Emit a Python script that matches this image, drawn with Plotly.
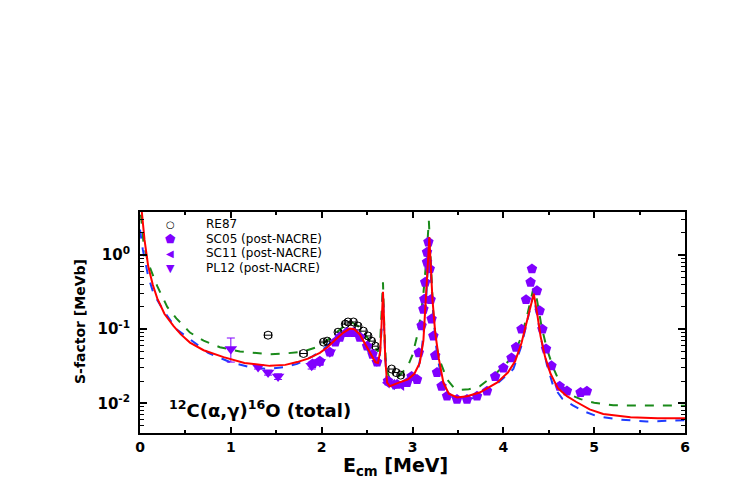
import plotly.graph_objects as go

# ---- curves ----
red_E = [0.02, 0.05, 0.09, 0.14, 0.19, 0.27, 0.37, 0.45, 0.55, 0.7, 0.92, 1.15, 1.43, 1.6, 1.73, 1.85, 1.98,
         2.07, 2.15, 2.24, 2.31, 2.36, 2.42, 2.48, 2.54, 2.59, 2.62, 2.645, 2.66, 2.675, 2.685, 2.70, 2.72,
         2.75, 2.85, 2.95, 3.02, 3.08, 3.12, 3.15, 3.17, 3.185, 3.20, 3.22, 3.25, 3.29, 3.34, 3.40, 3.49,
         3.6, 3.74, 3.93, 4.05, 4.13, 4.2, 4.26, 4.30, 4.335, 4.37, 4.41, 4.46, 4.52, 4.6, 4.7, 4.8, 4.95,
         5.1, 5.4, 5.7, 6.0]
red_S = [3.8, 1.6, 0.71, 0.40, 0.26, 0.16, 0.11, 0.085, 0.066, 0.052, 0.042, 0.035, 0.032, 0.033, 0.036,
         0.040, 0.048, 0.058, 0.072, 0.090, 0.102, 0.100, 0.085, 0.063, 0.045, 0.036, 0.035, 0.05, 0.12,
         0.32, 0.15, 0.04, 0.019, 0.017, 0.019, 0.021, 0.025, 0.035, 0.07, 0.25, 0.8, 1.75, 0.8, 0.25,
         0.09, 0.04, 0.019, 0.0135, 0.012, 0.0125, 0.014, 0.019, 0.026, 0.037, 0.065, 0.13, 0.22, 0.30,
         0.17, 0.08, 0.042, 0.025, 0.016, 0.0125, 0.0105, 0.0083, 0.0072, 0.0065, 0.0063, 0.0063]

green_E = [0.01, 0.04, 0.09, 0.19, 0.3, 0.4, 0.55, 0.7, 0.88, 1.1, 1.43, 1.6, 1.8, 1.98, 2.13, 2.27, 2.33,
           2.40, 2.46, 2.52, 2.57, 2.62, 2.645, 2.66, 2.675, 2.69, 2.71, 2.75, 2.85, 2.95, 3.0, 3.05, 3.09,
           3.12, 3.15, 3.18, 3.2, 3.23, 3.27, 3.30, 3.38, 3.45, 3.52, 3.62, 3.74, 3.9, 4.11, 4.2, 4.26,
           4.33, 4.37, 4.42, 4.48, 4.55, 4.63, 4.75, 4.85, 5.0, 5.21, 5.5, 6.0]
green_S = [3.5, 1.4, 0.78, 0.38, 0.2, 0.14, 0.09, 0.07, 0.057, 0.05, 0.046, 0.047, 0.05, 0.059, 0.083,
           0.117, 0.124, 0.11, 0.09, 0.072, 0.059, 0.05, 0.07, 0.15, 0.43, 0.1, 0.03, 0.021, 0.023, 0.032,
           0.045, 0.08, 0.15, 0.3, 0.8, 2.9, 0.9, 0.15, 0.055, 0.038, 0.021, 0.0165, 0.0152, 0.0155, 0.017,
           0.024, 0.043, 0.08, 0.15, 0.35, 0.25, 0.11, 0.054, 0.03, 0.018, 0.0128, 0.0114, 0.0102, 0.0094,
           0.0093, 0.0093]

blue_E = [0.0, 0.03, 0.09, 0.15, 0.25, 0.4, 0.55, 0.75, 0.99, 1.2, 1.4, 1.6, 1.73, 1.9, 2.02, 2.12, 2.24,
          2.31, 2.36, 2.42, 2.5, 2.56, 2.61, 2.64, 2.66, 2.675, 2.69, 2.71, 2.73, 2.8, 2.9, 3.0, 3.06, 3.1,
          3.14, 3.165, 3.185, 3.2, 3.23, 3.27, 3.32, 3.38, 3.49, 3.6, 3.74, 3.9, 4.11, 4.2, 4.27, 4.33,
          4.37, 4.42, 4.48, 4.55, 4.65, 4.77, 4.9, 5.03, 5.3, 5.58, 6.0]
blue_S = [2.2, 1.2, 0.52, 0.3, 0.186, 0.1, 0.073, 0.048, 0.036, 0.031, 0.029, 0.031, 0.034, 0.043, 0.054,
          0.07, 0.092, 0.098, 0.095, 0.078, 0.054, 0.038, 0.032, 0.045, 0.1, 0.3, 0.08, 0.025, 0.0155,
          0.016, 0.018, 0.021, 0.028, 0.05, 0.15, 0.6, 1.6, 0.6, 0.15, 0.045, 0.022, 0.0145, 0.0105,
          0.0112, 0.0124, 0.017, 0.029, 0.06, 0.14, 0.29, 0.16, 0.07, 0.033, 0.017, 0.0115, 0.0093,
          0.0077, 0.0067, 0.006, 0.0057, 0.0059]

# ---- data points ----
re87_E = [1.41, 1.80, 2.02, 2.06, 2.18, 2.26, 2.29, 2.35, 2.40, 2.46, 2.51, 2.55, 2.59, 2.77, 2.82, 2.87]
re87_S = [0.083, 0.047, 0.067, 0.069, 0.091, 0.117, 0.125, 0.125, 0.110, 0.094, 0.081, 0.069, 0.059,
          0.029, 0.026, 0.024]
re87_dE = [0.04, 0.04, 0.03, 0.03, 0.03, 0.03, 0.03, 0.03, 0.03, 0.03, 0.03, 0.03, 0.03, 0.03, 0.03, 0.03]

sc05_E = [1.90, 1.98, 2.09, 2.15, 2.20, 2.28, 2.35, 2.42, 2.50, 2.56, 2.61, 2.73, 2.83, 2.94, 3.05,
          2.99, 3.07, 3.10, 3.12, 3.13, 3.14, 3.16, 3.16, 3.175, 3.19, 3.20, 3.21, 3.23, 3.25, 3.27, 3.32,
          3.38, 3.49, 3.60, 3.71, 3.82, 3.91, 4.00, 4.09, 4.14, 4.20, 4.25, 4.30, 4.315, 4.37, 4.40, 4.43,
          4.47, 4.53, 4.62, 4.70, 4.85, 4.92]
sc05_S = [0.034, 0.037, 0.049, 0.067, 0.078, 0.090, 0.090, 0.078, 0.059, 0.046, 0.036, 0.020, 0.018,
          0.019, 0.021, 0.023, 0.048, 0.111, 0.186, 0.254, 0.43, 0.80, 1.09, 1.5, 0.65, 0.25, 0.137, 0.081,
          0.044, 0.026, 0.017, 0.0125, 0.0113, 0.0113, 0.0125, 0.0146, 0.023, 0.030, 0.041, 0.057, 0.10,
          0.25, 0.43, 0.65, 0.33, 0.177, 0.10, 0.054, 0.032, 0.017, 0.0147, 0.014, 0.0146]

sc11_E = [2.72, 2.78, 2.88]
sc11_S = [0.019, 0.018, 0.0175]

pl12_E = [1.00, 1.30, 1.41, 1.52, 1.89, 1.98, 2.09]
pl12_S = [0.054, 0.031, 0.026, 0.023, 0.032, 0.036, 0.049]
pl12_up = [0.022, 0.002, 0.002, 0.002, 0.003, 0.003, 0.003]
pl12_dn = [0.018, 0.002, 0.002, 0.002, 0.003, 0.003, 0.003]

legend_names = ["RE87", "SC05 (post-NACRE)", "SC11 (post-NACRE)", "PL12 (post-NACRE)"]
legend_glyphs = ["○", "⬟", "◀", "▼"]

VIOLET = "#8000ff"
FONT = "DejaVu Sans"

fig = go.Figure()
fig.add_trace(go.Scatter(x=green_E, y=green_S, mode="lines", showlegend=False,
                         line=dict(color="#1a8a1a", width=2, dash="dash")))
fig.add_trace(go.Scatter(x=blue_E, y=blue_S, mode="lines", showlegend=False,
                         line=dict(color="#1f3cff", width=2, dash="dash")))
fig.add_trace(go.Scatter(x=re87_E, y=re87_S, mode="markers", name=legend_names[0], showlegend=False,
                         marker=dict(symbol="circle-open", size=8, color="black", line=dict(width=1)),
                         error_x=dict(type="data", array=re87_dE, color="black", thickness=1, width=3)))
fig.add_trace(go.Scatter(x=sc05_E, y=sc05_S, mode="markers", name=legend_names[1], showlegend=False,
                         marker=dict(symbol="pentagon", size=11, color=VIOLET)))
fig.add_trace(go.Scatter(x=sc11_E, y=sc11_S, mode="markers", name=legend_names[2], showlegend=False,
                         marker=dict(symbol="triangle-left", size=10, color=VIOLET)))
fig.add_trace(go.Scatter(x=pl12_E, y=pl12_S, mode="markers", name=legend_names[3], showlegend=False,
                         marker=dict(symbol="triangle-down", size=11, color=VIOLET),
                         error_y=dict(type="data", array=pl12_up, arrayminus=pl12_dn, color=VIOLET,
                                      thickness=1, width=4)))
fig.add_trace(go.Scatter(x=red_E, y=red_S, mode="lines", showlegend=False,
                         line=dict(color="#ff0000", width=2)))

minor_y = [m * 10 ** d for d in (-3, -2, -1, 0) for m in range(2, 10)]

# plot area in page pixels: x 140..685, y 212..433 (page has 8px body offset)
def px_x(px):
    return (px - 140) / 545.0

def px_y(py):
    return (433 - py) / 221.0

annotations = []
legend_rows = [224, 239, 253, 268]
glyph_colors = ["black", VIOLET, VIOLET, VIOLET]
glyph_sizes = [10, 12, 10, 11]
for i, name in enumerate(legend_names):
    annotations.append(dict(x=px_x(170), y=px_y(legend_rows[i]), xref="paper", yref="paper",
                            xanchor="center", yanchor="middle", showarrow=False,
                            text=legend_glyphs[i],
                            font=dict(size=glyph_sizes[i], family=FONT, color=glyph_colors[i])))
    annotations.append(dict(x=px_x(204), y=px_y(legend_rows[i]), xref="paper", yref="paper",
                            xanchor="left", yanchor="middle", showarrow=False, text=name,
                            font=dict(size=12, family=FONT, color="black")))

annotations.append(dict(x=px_x(167), y=px_y(409), xref="paper", yref="paper",
                        xanchor="left", yanchor="middle", showarrow=False,
                        text="<b><sup>12</sup>C(α,γ)<sup>16</sup>O (total)</b>",
                        font=dict(size=18, family=FONT, color="black")))
annotations.append(dict(x=px_x(395), y=px_y(466), xref="paper", yref="paper",
                        xanchor="center", yanchor="middle", showarrow=False,
                        text="<b>E<sub>cm</sub> [MeV]</b>",
                        font=dict(size=19, family=FONT, color="black")))
annotations.append(dict(x=px_x(80), y=px_y(322), xref="paper", yref="paper",
                        xanchor="center", yanchor="middle", showarrow=False, textangle=-90,
                        text="<b>S-factor [MeVb]</b>",
                        font=dict(size=14, family=FONT, color="black")))

fig.update_layout(
    width=747, height=485,
    margin=dict(l=132, r=70, t=204, b=60, autoexpand=False),
    plot_bgcolor="white", paper_bgcolor="white",
    font=dict(family=FONT, color="black"),
    showlegend=False,
    xaxis=dict(range=[0, 6], showgrid=False, zeroline=False, showline=True, linecolor="black",
               linewidth=2, mirror="ticks", ticks="inside", ticklen=6, tickwidth=1.5,
               tickcolor="black", dtick=1, tick0=0, automargin=False,
               tickfont=dict(size=14, family=FONT, weight="bold"),
               minor=dict(ticks="inside", ticklen=3, dtick=0.5, tickcolor="black", tickwidth=1.5)),
    yaxis=dict(type="log", range=[-2.4, 0.58], showgrid=False, zeroline=False, showline=True,
               linecolor="black", linewidth=2, mirror="ticks", ticks="inside", ticklen=7,
               tickwidth=1.5, tickcolor="black", automargin=False, ticklabelstandoff=5,
               tickvals=[0.01, 0.1, 1],
               ticktext=["<b>10<sup>-2</sup></b>", "<b>10<sup>-1</sup></b>", "<b>10<sup>0</sup></b>"],
               tickfont=dict(size=15, family=FONT),
               minor=dict(ticks="inside", ticklen=4, tickvals=minor_y, tickcolor="black", tickwidth=1)),
    annotations=annotations,
)

fig.write_html("out.html")
